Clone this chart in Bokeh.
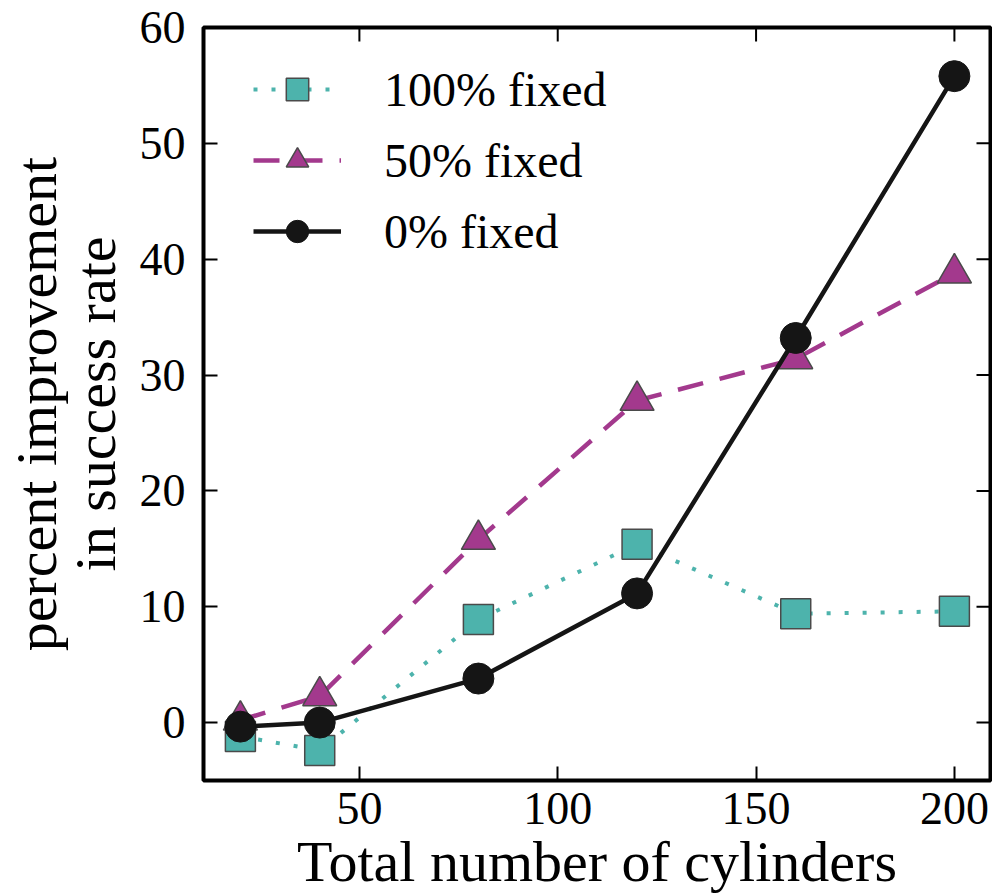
import math
from bokeh.plotting import figure
from bokeh.models import FixedTicker, Legend, LegendItem, Range1d
from bokeh.embed import file_html
from bokeh.resources import INLINE

# ---- data ----
cylinders = [20, 40, 80, 120, 160, 200]
fixed_100 = [-1.2, -2.4, 8.9, 15.4, 9.4, 9.6]
fixed_50 = [0.2, 2.3, 15.8, 27.8, 31.4, 38.8]
fixed_0 = [-0.35, 0.0, 3.8, 11.15, 33.2, 55.8]
series_labels = ["100% fixed", "50% fixed", "0% fixed"]
x_ticks = [50, 100, 150, 200]
y_ticks = [0, 10, 20, 30, 40, 50, 60]
x_lim = (10.7, 209.1)
y_lim = (-5, 60)

FONT = "Liberation Serif"
TEAL = "#4db3ac"
MAGENTA = "#a3398d"
BLACK = "#151515"
EDGE = "#4a4a4a"

p = figure(width=992, height=896,
           x_range=Range1d(*x_lim), y_range=Range1d(*y_lim),
           output_backend="svg", toolbar_location=None,
           min_border_left=203, min_border_right=2,
           min_border_top=27, min_border_bottom=116,
           background_fill_color="white", border_fill_color="white")

p.grid.visible = False
p.outline_line_color = "black"
p.outline_line_width = 4

for ax, ticks in ((p.xaxis[0], x_ticks), (p.yaxis[0], y_ticks)):
    ax.ticker = FixedTicker(ticks=ticks)
    ax.axis_line_color = None
    ax.major_tick_in = 14
    ax.major_tick_out = 0
    ax.major_tick_line_width = 2
    ax.major_tick_line_color = "black"
    ax.minor_tick_line_color = None
    ax.major_label_text_font = FONT
    ax.major_label_text_font_size = "46px"
    ax.major_label_text_color = "black"
    ax.axis_label_text_font = FONT
    ax.axis_label_text_font_style = "normal"
    ax.axis_label_text_color = "black"
    ax.axis_label_text_font_size = "58px"

p.xaxis[0].axis_label = "Total number of cylinders"
p.xaxis[0].major_label_standoff = 12
p.xaxis[0].axis_label_standoff = 2
p.yaxis[0].axis_label = "percent improvement\nin success rate"
p.yaxis[0].axis_label_text_line_height = 0.9
p.yaxis[0].major_label_standoff = 18
p.yaxis[0].axis_label_standoff = 9

# mirrored inward ticks on the top and right edges of the frame
p.ray(x=x_ticks, y=[y_lim[1]] * len(x_ticks), length=14, length_units="screen",
      angle=-math.pi / 2, line_color="black", line_width=2)
p.ray(x=[x_lim[1]] * len(y_ticks), y=y_ticks, length=14, length_units="screen",
      angle=math.pi, line_color="black", line_width=2)

# series
l100 = p.line(cylinders, fixed_100, line_color=TEAL, line_width=4, line_dash="4 14")
s100 = p.scatter(cylinders, fixed_100, marker="square", size=30,
                 fill_color=TEAL, line_color=EDGE, line_width=1.5)
l50 = p.line(cylinders, fixed_50, line_color=MAGENTA, line_width=4.5, line_dash="26 17")
s50 = p.scatter(cylinders, fixed_50, marker="triangle", size=34,
                fill_color=MAGENTA, line_color=EDGE, line_width=1.5)
l0 = p.line(cylinders, fixed_0, line_color=BLACK, line_width=4.5)
s0 = p.scatter(cylinders, fixed_0, marker="circle", size=31,
               fill_color=BLACK, line_color=BLACK, line_width=1)

legend = Legend(items=[
    LegendItem(label=series_labels[0], renderers=[l100, s100]),
    LegendItem(label=series_labels[1], renderers=[l50, s50]),
    LegendItem(label=series_labels[2], renderers=[l0, s0]),
], location=(50, 521))
legend.border_line_color = None
legend.background_fill_alpha = 0
legend.padding = 0
legend.margin = 0
legend.glyph_width = 88
legend.glyph_height = 56
legend.label_height = 56
legend.spacing = 15
legend.label_standoff = 43
legend.label_text_font = FONT
legend.label_text_font_size = "48px"
legend.label_text_color = "black"
p.add_layout(legend, "center")

open("out.html", "w").write(file_html(p, INLINE))
